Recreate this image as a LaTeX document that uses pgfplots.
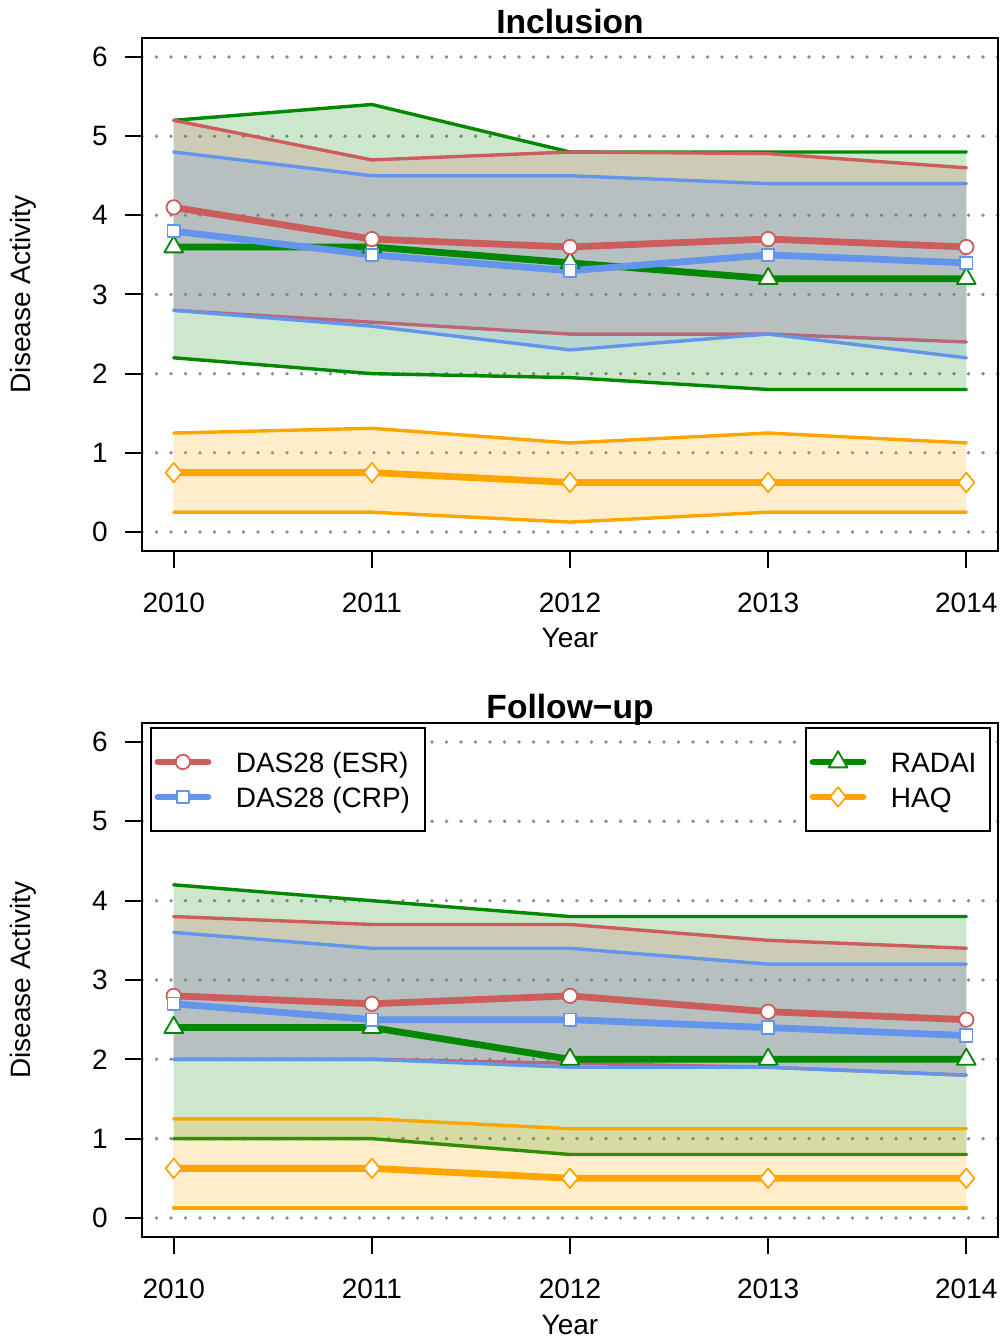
\documentclass[border=0pt]{standalone}
\usepackage{fontspec}
\setmainfont{Liberation Sans}
\usepackage{pgfplots}
\pgfplotsset{compat=1.18}

\definecolor{esr}{RGB}{205,92,92}
\definecolor{crp}{RGB}{100,149,237}
\definecolor{radai}{RGB}{0,136,0}
\definecolor{haq}{RGB}{255,165,0}
\definecolor{griddot}{RGB}{140,140,140}

\newcommand\lbl{\fontsize{14}{16.8}\selectfont}

\pgfplotsset{
  frame/.style={
    scale only axis, width=428pt,
    xmin=2009.84, xmax=2014.16, ymin=-0.24, ymax=6.24,
    legend image code/.code={\draw[mark repeat=2,mark phase=2,##1]
      plot coordinates {(0pt,0pt) (12.5pt,0pt) (25pt,0pt)};},
    legend style={draw=black, line width=1pt, fill=white,
      inner xsep=1.75pt, inner ysep=8.5pt, row sep=0.5pt, column sep=12.25pt,
      font=\lbl, nodes={inner sep=0pt, text height=14pt, text depth=3pt}},
    legend cell align=left,
  },
  panel/.style={
    frame,
    xtick={2010,2011,2012,2013,2014}, ytick={0,1,...,6},
    x tick label style={/pgf/number format/1000 sep={}},
    /pgf/number format/assume math mode=true,
    tick align=outside, major tick length=8.5pt,
    xtick pos=bottom, ytick pos=left,
    axis line style={line width=1pt},
    tick style={black, line width=1pt},
    ymajorgrids,
    grid style={griddot, line width=1.9pt, line cap=round, dash pattern=on 0pt off 7.25pt},
    ticklabel style={font=\lbl, inner sep=0pt},
    xticklabel style={anchor=north, yshift=-12.5pt},
    yticklabel style={anchor=east, xshift=-8.5pt},
    label style={font=\lbl},
    xlabel={Year}, ylabel={Disease Activity},
    xlabel style={at={(axis description cs:0.5,-0.189)}, anchor=base},
    ylabel style={at={(axis description cs:-0.1308,0.5)}, anchor=base},
    title style={at={(axis description cs:0.5,1)}, anchor=base, yshift=-4pt,
      font=\bfseries\fontsize{16.8}{20}\selectfont},
  },
  band/.style={draw=none, fill=#1, fill opacity=0.2, forget plot},
  bound/.style={#1, line width=1.7pt, line cap=round, line join=round, forget plot},
  mean/.style={#1, line width=3.4pt, line cap=round, line join=round},
  mesr/.style={mean=esr, mark=*, mark size=3.6pt,
    mark options={solid, fill=white, draw=esr, line width=0.9pt}},
  mcrp/.style={mean=crp, mark=square*, mark size=3.1pt,
    mark options={solid, fill=white, draw=crp, line width=0.9pt}},
  mradai/.style={mean=radai, mark=triangle*, mark size=5.4pt,
    mark options={solid, fill=white, draw=radai, line width=0.9pt}},
  mhaq/.style={mean=haq, mark=diamond*, mark size=4.9pt,
    mark options={solid, fill=white, draw=haq, line width=0.9pt, xscale=1.1}},
}

\begin{document}
\begin{tikzpicture}
\path[use as bounding box] (0,0) rectangle (501pt,668.5pt);

% ---------------- Inclusion ----------------
\begin{axis}[panel, at={(71pt,393pt)}, anchor=south west, height=256.5pt,
  title={Inclusion}]
% RADAI range
\addplot[band=radai] coordinates {(2010,5.2) (2011,5.4) (2012,4.8) (2013,4.8) (2014,4.8)
  (2014,1.8) (2013,1.8) (2012,1.95) (2011,2.0) (2010,2.2)} -- cycle;
\addplot[bound=radai] coordinates {(2010,5.2) (2011,5.4) (2012,4.8) (2013,4.8) (2014,4.8)};
\addplot[bound=radai] coordinates {(2010,2.2) (2011,2.0) (2012,1.95) (2013,1.8) (2014,1.8)};
% DAS28 (ESR) range
\addplot[band=esr] coordinates {(2010,5.2) (2011,4.7) (2012,4.8) (2013,4.78) (2014,4.6)
  (2014,2.4) (2013,2.5) (2012,2.5) (2011,2.65) (2010,2.8)} -- cycle;
\addplot[bound=esr] coordinates {(2010,5.2) (2011,4.7) (2012,4.8) (2013,4.78) (2014,4.6)};
\addplot[bound=esr] coordinates {(2010,2.8) (2011,2.65) (2012,2.5) (2013,2.5) (2014,2.4)};
% DAS28 (CRP) range
\addplot[band=crp] coordinates {(2010,4.8) (2011,4.5) (2012,4.5) (2013,4.4) (2014,4.4)
  (2014,2.2) (2013,2.5) (2012,2.3) (2011,2.6) (2010,2.8)} -- cycle;
\addplot[bound=crp] coordinates {(2010,4.8) (2011,4.5) (2012,4.5) (2013,4.4) (2014,4.4)};
\addplot[bound=crp] coordinates {(2010,2.8) (2011,2.6) (2012,2.3) (2013,2.5) (2014,2.2)};
% HAQ range
\addplot[band=haq] coordinates {(2010,1.25) (2011,1.31) (2012,1.125) (2013,1.25) (2014,1.125)
  (2014,0.25) (2013,0.25) (2012,0.125) (2011,0.25) (2010,0.25)} -- cycle;
\addplot[bound=haq] coordinates {(2010,1.25) (2011,1.31) (2012,1.125) (2013,1.25) (2014,1.125)};
\addplot[bound=haq] coordinates {(2010,0.25) (2011,0.25) (2012,0.125) (2013,0.25) (2014,0.25)};
% means
\addplot[mradai, forget plot] coordinates {(2010,3.6) (2011,3.6) (2012,3.4) (2013,3.2) (2014,3.2)};
\addplot[mesr, forget plot] coordinates {(2010,4.1) (2011,3.7) (2012,3.6) (2013,3.7) (2014,3.6)};
\addplot[mcrp, forget plot] coordinates {(2010,3.8) (2011,3.5) (2012,3.3) (2013,3.5) (2014,3.4)};
\addplot[mhaq, forget plot] coordinates {(2010,0.75) (2011,0.75) (2012,0.625) (2013,0.625) (2014,0.625)};
\end{axis}

% ---------------- Follow-up ----------------
\begin{axis}[panel, at={(71pt,50pt)}, anchor=south west, height=257pt,
  title={Follow−up},
  legend style={at={(0,1)}, anchor=north west, xshift=4pt, yshift=-2pt}]
% RADAI range
\addplot[band=radai] coordinates {(2010,4.2) (2011,4.0) (2012,3.8) (2013,3.8) (2014,3.8)
  (2014,0.8) (2013,0.8) (2012,0.8) (2011,1.0) (2010,1.0)} -- cycle;
\addplot[bound=radai] coordinates {(2010,4.2) (2011,4.0) (2012,3.8) (2013,3.8) (2014,3.8)};
\addplot[bound=radai] coordinates {(2010,1.0) (2011,1.0) (2012,0.8) (2013,0.8) (2014,0.8)};
% DAS28 (ESR) range
\addplot[band=esr] coordinates {(2010,3.8) (2011,3.7) (2012,3.7) (2013,3.5) (2014,3.4)
  (2014,1.8) (2013,1.9) (2012,1.95) (2011,2.0) (2010,2.0)} -- cycle;
\addplot[bound=esr] coordinates {(2010,3.8) (2011,3.7) (2012,3.7) (2013,3.5) (2014,3.4)};
\addplot[bound=esr] coordinates {(2010,2.0) (2011,2.0) (2012,1.95) (2013,1.9) (2014,1.8)};
% DAS28 (CRP) range
\addplot[band=crp] coordinates {(2010,3.6) (2011,3.4) (2012,3.4) (2013,3.2) (2014,3.2)
  (2014,1.8) (2013,1.9) (2012,1.9) (2011,2.0) (2010,2.0)} -- cycle;
\addplot[bound=crp] coordinates {(2010,3.6) (2011,3.4) (2012,3.4) (2013,3.2) (2014,3.2)};
\addplot[bound=crp] coordinates {(2010,2.0) (2011,2.0) (2012,1.9) (2013,1.9) (2014,1.8)};
% HAQ range
\addplot[band=haq] coordinates {(2010,1.25) (2011,1.25) (2012,1.125) (2013,1.125) (2014,1.125)
  (2014,0.125) (2013,0.125) (2012,0.125) (2011,0.125) (2010,0.125)} -- cycle;
\addplot[bound=haq] coordinates {(2010,1.25) (2011,1.25) (2012,1.125) (2013,1.125) (2014,1.125)};
\addplot[bound=haq] coordinates {(2010,0.125) (2011,0.125) (2012,0.125) (2013,0.125) (2014,0.125)};
% means
\addplot[mradai, forget plot] coordinates {(2010,2.4) (2011,2.4) (2012,2.0) (2013,2.0) (2014,2.0)};
\addplot[mesr] coordinates {(2010,2.8) (2011,2.7) (2012,2.8) (2013,2.6) (2014,2.5)};
\addlegendentry{DAS28 (ESR)\hspace*{5.65pt}}
\addplot[mcrp] coordinates {(2010,2.7) (2011,2.5) (2012,2.5) (2013,2.4) (2014,2.3)};
\addlegendentry{DAS28 (CRP)\hspace*{5.65pt}}
\addplot[mhaq, forget plot] coordinates {(2010,0.625) (2011,0.625) (2012,0.5) (2013,0.5) (2014,0.5)};
\end{axis}

% second legend of the follow-up panel
\begin{axis}[frame, hide axis, at={(71pt,50pt)}, anchor=south west, height=257pt,
  legend style={at={(1,1)}, anchor=north east, xshift=-3.75pt, yshift=-2pt}]
\addlegendimage{mradai}
\addlegendentry{RADAI\hspace*{4.75pt}}
\addlegendimage{mhaq}
\addlegendentry{HAQ}
\end{axis}
\end{tikzpicture}
\end{document}
